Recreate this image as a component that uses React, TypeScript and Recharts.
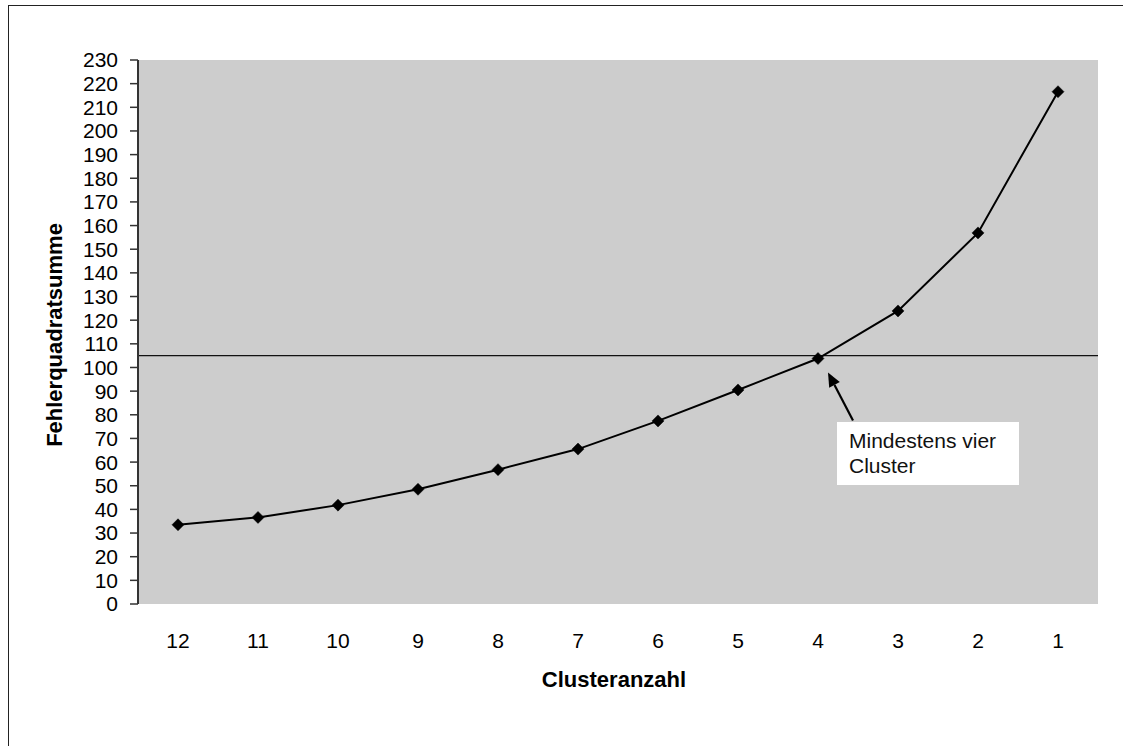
import React from 'react';
import { LineChart, Line, XAxis, YAxis, CartesianGrid, ReferenceLine, ReferenceDot } from 'recharts';

const clusterCounts = ['12', '11', '10', '9', '8', '7', '6', '5', '4', '3', '2', '1'];
const sseValues = [33.5, 36.6, 41.8, 48.5, 56.8, 65.5, 77.4, 90.5, 103.8, 123.9, 156.9, 216.6];
const yTicks = [0, 10, 20, 30, 40, 50, 60, 70, 80, 90, 100, 110, 120, 130, 140, 150, 160, 170, 180, 190, 200, 210, 220, 230];
const boundaryTicks = [0, 1, 2, 3, 4, 5, 6, 7, 8, 9, 10, 11, 12];
const thresholdValue = 105;
const annotationCategory = '4';
const annotationValue = 103.8;
const annotationLines = ['Mindestens vier', 'Cluster'];
const xTitle = 'Clusteranzahl';
const yTitle = 'Fehlerquadratsumme';

const data = clusterCounts.map((k, i) => ({ k, v: sseValues[i] }));

const FONT = '"Liberation Sans", Arial, Helvetica, sans-serif';

const Diamond = (props: any) => {
  const { cx, cy } = props;
  if (cx == null || cy == null) return null;
  const r = 6;
  return (
    <polygon
      points={`${cx},${cy - r} ${cx + r},${cy} ${cx},${cy + r} ${cx - r},${cy}`}
      fill="#000"
      stroke="#000"
      strokeWidth={0.5}
    />
  );
};

const Annotation = (props: any) => {
  const { cx, cy } = props;
  if (cx == null || cy == null) return null;
  return (
    <g>
      <line x1={cx + 35} y1={cy + 62} x2={cx + 16.5} y2={cy + 26.4} stroke="#000" strokeWidth={2.2} />
      <polygon
        points={`${cx + 10},${cy + 14} ${cx + 21.8},${cy + 23.6} ${cx + 11.2},${cy + 29.2}`}
        fill="#000"
      />
      <rect x={cx + 19} y={cy + 63.5} width={182} height={63} fill="#fff" />
      {annotationLines.map((t, i) => (
        <text key={i} x={cx + 31} y={cy + 89.5 + i * 25} fontSize={21} fontFamily={FONT} fill="#111">
          {t}
        </text>
      ))}
    </g>
  );
};

const YTitle = (props: any) => {
  const vb = props.viewBox || {};
  const cy = (vb.y ?? 60) + (vb.height ?? 544) / 2 + 3;
  const x = 62;
  return (
    <text
      x={x}
      y={cy}
      transform={`rotate(-90 ${x} ${cy})`}
      textAnchor="middle"
      fontSize={22}
      fontWeight="bold"
      fontFamily={FONT}
      fill="#000"
    >
      {yTitle}
    </text>
  );
};

const XTitle = (props: any) => {
  const vb = props.viewBox || {};
  const x = (vb.x ?? 138) + (vb.width ?? 960) / 2 - 4;
  const y = (vb.y ?? 604) + 83;
  return (
    <text x={x} y={y} textAnchor="middle" fontSize={22} fontWeight="bold" fontFamily={FONT} fill="#000">
      {xTitle}
    </text>
  );
};

export default function App() {
  return (
    <div style={{ position: 'absolute', left: 0, top: 0, width: 1123, height: 746, overflow: 'hidden', background: '#fff' }}>
      <div
        style={{
          position: 'absolute',
          left: 8,
          top: 5,
          width: 1300,
          height: 900,
          border: '1.5px solid #222',
          boxSizing: 'border-box',
        }}
      />
      <div style={{ position: 'absolute', left: 0, top: 0 }}>
        <LineChart
          width={1123}
          height={746}
          data={data}
          margin={{ top: 60, right: 25, bottom: 0, left: 0 }}
          style={{ fontFamily: FONT }}
        >
          <CartesianGrid fill="#CDCDCD" fillOpacity={1} horizontal={false} vertical={false} />
          <XAxis
            xAxisId="b"
            type="number"
            domain={[0, 12]}
            ticks={boundaryTicks}
            allowDataOverflow
            height={0}
            tick={false}
            tickSize={8}
            tickLine={{ stroke: '#333', strokeWidth: 1.5 }}
            axisLine={{ stroke: '#333', strokeWidth: 2 }}
          />
          <XAxis
            dataKey="k"
            type="category"
            scale="band"
            height={142}
            tickLine={false}
            axisLine={false}
            tickSize={0}
            tickMargin={29}
            interval={0}
            tick={{ fontSize: 21, fill: '#000', fontFamily: FONT }}
            label={XTitle}
          />
          <XAxis
            xAxisId="t"
            orientation="top"
            type="number"
            domain={[0, 12]}
            allowDataOverflow
            height={0}
            tick={false}
            tickLine={false}
            axisLine={{ stroke: '#999', strokeWidth: 2 }}
          />
          <YAxis
            type="number"
            domain={[0, 230]}
            ticks={yTicks}
            interval={0}
            width={138}
            tickSize={8}
            tickMargin={12}
            tick={{ fontSize: 21, fill: '#000', fontFamily: FONT }}
            tickLine={{ stroke: '#333', strokeWidth: 1.5 }}
            axisLine={{ stroke: '#333', strokeWidth: 2 }}
            label={YTitle}
          />
          <YAxis
            yAxisId="r"
            orientation="right"
            type="number"
            domain={[0, 230]}
            allowDataOverflow
            width={0}
            tick={false}
            tickLine={false}
            axisLine={{ stroke: '#999', strokeWidth: 2 }}
          />
          <ReferenceLine y={thresholdValue} stroke="#111" strokeWidth={1.3} />
          <Line
            type="linear"
            dataKey="v"
            stroke="#000"
            strokeWidth={2}
            dot={<Diamond />}
            activeDot={false}
            isAnimationActive={false}
          />
          <ReferenceDot x={annotationCategory} y={annotationValue} r={0} shape={Annotation} />
        </LineChart>
      </div>
    </div>
  );
}
